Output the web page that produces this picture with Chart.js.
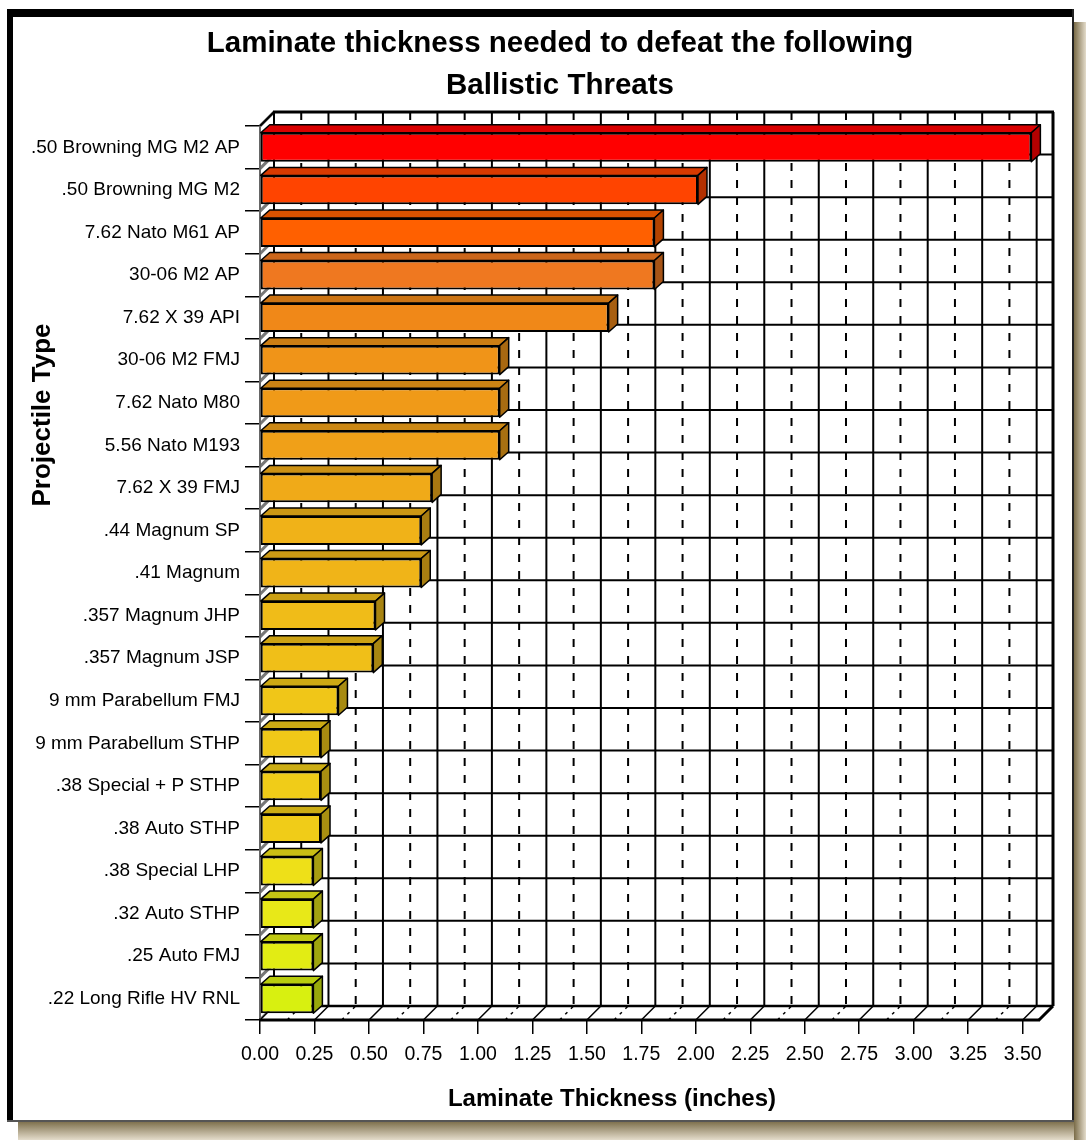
<!DOCTYPE html>
<html>
<head>
<meta charset="utf-8">
<title>Laminate thickness needed to defeat the following Ballistic Threats</title>
<script src="https://cdn.jsdelivr.net/npm/chart.js@4.4.1/dist/chart.umd.min.js"></script>
<style>
  html, body { margin: 0; padding: 0; background: #fff; }
  canvas { display: block; }
</style>
</head>
<body>
<canvas id="threat-chart" width="1086" height="1140"></canvas>
<script>
// Laminate thickness per projectile, drawn as a pseudo-3D horizontal bar chart.

/* ---------------------------------------- data ---------------------------------------- */
const projectiles = [
  '.50 Browning MG M2 AP', '.50 Browning MG M2', '7.62 Nato M61 AP', '30-06 M2 AP',
  '7.62 X 39 API', '30-06 M2 FMJ', '7.62 Nato M80', '5.56 Nato M193', '7.62 X 39 FMJ',
  '.44 Magnum SP', '.41 Magnum', '.357 Magnum JHP', '.357 Magnum JSP',
  '9 mm Parabellum FMJ', '9 mm Parabellum STHP', '.38 Special + P STHP', '.38 Auto STHP',
  '.38 Special LHP', '.32 Auto STHP', '.25 Auto FMJ', '.22 Long Rifle HV RNL'
];
const thickness = [
  3.54, 2.01, 1.81, 1.81, 1.60, 1.10, 1.10, 1.10, 0.79,
  0.74, 0.74, 0.53, 0.52, 0.36, 0.28, 0.28, 0.28,
  0.245, 0.245, 0.245, 0.245
];
const barColors = [
  '#ff0000', '#ff4400', '#ff6000', '#ef7820', '#f08818', '#f09418', '#f09a18',
  '#f0a018', '#f0aa18', '#f0b218', '#f0b418', '#f0bc18', '#f0bf18', '#f0c618',
  '#f0c818', '#f0cc18', '#f0cc18', '#eee018', '#e8e818', '#e2ec14', '#d8f010'
];
const xMin = 0, xMax = 3.575, xStep = 0.25;

const titleLines = ['Laminate thickness needed to defeat the following', 'Ballistic Threats'];
const xTitle = 'Laminate Thickness (inches)';
const yTitle = 'Projectile Type';

/* ---------------------------------------- 3D look ---------------------------------------- */
const DX = 14, DY = -14;   // back wall offset
const BX = 9,  BY = -8;    // bar depth
const FONT = '"Liberation Sans", Arial, Helvetica, sans-serif';

function shade(hex, f) {
  const n = parseInt(hex.slice(1), 16);
  const r = Math.round(((n >> 16) & 255) * f);
  const g = Math.round(((n >> 8) & 255) * f);
  const b = Math.round((n & 255) * f);
  return 'rgb(' + r + ',' + g + ',' + b + ')';
}

function poly(ctx, pts, fill, stroke, lw) {
  ctx.beginPath();
  ctx.moveTo(pts[0][0], pts[0][1]);
  for (let i = 1; i < pts.length; i++) ctx.lineTo(pts[i][0], pts[i][1]);
  ctx.closePath();
  if (fill) { ctx.fillStyle = fill; ctx.fill(); }
  if (stroke) { ctx.strokeStyle = stroke; ctx.lineWidth = lw || 1; ctx.stroke(); }
}

function line(ctx, x1, y1, x2, y2, color, lw, dash) {
  ctx.beginPath();
  ctx.setLineDash(dash || []);
  ctx.strokeStyle = color;
  ctx.lineWidth = lw;
  ctx.moveTo(x1, y1);
  ctx.lineTo(x2, y2);
  ctx.stroke();
  ctx.setLineDash([]);
}

// frame with beveled border and drop shadow
const framePlugin = {
  id: 'frame',
  beforeDraw(chart) {
    const ctx = chart.ctx;
    ctx.save();
    ctx.fillStyle = '#fff';
    ctx.fillRect(0, 0, chart.width, chart.height);

    let g = ctx.createLinearGradient(0, 1121, 0, 1140);
    g.addColorStop(0, '#7a6c48');
    g.addColorStop(1, '#e4dccb');
    ctx.fillStyle = g;
    ctx.fillRect(18, 1121, 1068, 19);
    g = ctx.createLinearGradient(1074, 0, 1086, 0);
    g.addColorStop(0, '#7a6c48');
    g.addColorStop(1, '#e4dccb');
    ctx.fillStyle = g;
    ctx.fillRect(1074, 22, 12, 1118);

    ctx.fillStyle = '#fff';
    ctx.fillRect(13, 17, 1059, 1103);
    ctx.fillStyle = '#000';
    ctx.fillRect(7, 9, 6, 1113);
    ctx.fillRect(7, 9, 1067, 8);
    ctx.fillStyle = '#222';
    ctx.fillRect(1072, 9, 2, 1113);
    ctx.fillStyle = '#555';
    ctx.fillRect(7, 1120, 1067, 2);
    ctx.restore();
  }
};

// back wall, left wall, floor and their grid lines
const wallPlugin = {
  id: 'walls',
  beforeDatasetsDraw(chart) {
    const { ctx, chartArea: a, scales: { x, y } } = chart;
    const n = projectiles.length;
    ctx.save();

    // back wall
    ctx.fillStyle = '#fff';
    ctx.fillRect(a.left + DX, a.top + DY, a.right - a.left, a.bottom - a.top);

    // horizontal lines at category boundaries
    for (let i = 0; i <= n; i++) {
      const yb = y.getPixelForValue(i - 0.5);
      line(ctx, a.left + DX, yb + DY, a.right + DX, yb + DY, '#000', 2);
    }
    // vertical lines: solid on ticks, dashed half way
    x.ticks.forEach(t => {
      const px = x.getPixelForValue(t.value) + DX;
      line(ctx, px, a.top + DY, px, a.bottom + DY, '#000', 2);
      const mid = t.value + xStep / 2;
      if (mid < xMax) {
        const pm = x.getPixelForValue(mid) + DX;
        line(ctx, pm, a.top + DY, pm, a.bottom + DY, '#000', 2, [8, 9]);
      }
    });

    // left wall
    poly(ctx, [[a.left, a.top], [a.left + DX, a.top + DY], [a.left + DX, a.bottom + DY], [a.left, a.bottom]], '#fff');
    for (let i = 0; i <= n; i++) {
      const yb = y.getPixelForValue(i - 0.5);
      line(ctx, a.left, yb, a.left + DX, yb + DY, '#777', 3);
    }
    line(ctx, a.left + DX, a.top + DY, a.left + DX, a.bottom + DY, '#000', 2);

    // floor
    poly(ctx, [[a.left, a.bottom], [a.left + DX, a.bottom + DY], [a.right + DX, a.bottom + DY], [a.right, a.bottom]], '#fff');
    x.ticks.forEach(t => {
      const px = x.getPixelForValue(t.value);
      line(ctx, px, a.bottom, px + DX, a.bottom + DY, '#000', 1.5);
      const mid = t.value + xStep / 2;
      if (mid < xMax) {
        const pm = x.getPixelForValue(mid);
        line(ctx, pm, a.bottom, pm + DX, a.bottom + DY, '#000', 1.5, [3, 5]);
      }
    });

    // outer edges
    line(ctx, a.left + DX, a.bottom + DY, a.right + DX, a.bottom + DY, '#000', 2.5);
    line(ctx, a.left, a.top, a.left + DX, a.top + DY, '#000', 2);
    line(ctx, a.left + DX - 1, a.top + DY, a.right + DX + 1, a.top + DY, '#000', 3);
    line(ctx, a.right + DX, a.top + DY, a.right + DX, a.bottom + DY, '#000', 3);
    line(ctx, a.right, a.bottom, a.right + DX, a.bottom + DY, '#000', 3);
    line(ctx, a.left, a.top, a.left, a.bottom, '#666', 2);
    line(ctx, a.left - 1, a.bottom, a.right + 1, a.bottom, '#000', 3);
    ctx.restore();
  },

  // top and side faces of each bar
  afterDatasetsDraw(chart) {
    const ctx = chart.ctx;
    const meta = chart.getDatasetMeta(0);
    ctx.save();
    ctx.lineJoin = 'round';
    meta.data.forEach((bar, i) => {
      const p = bar.getProps(['x', 'y', 'base', 'height'], true);
      const t = p.y - p.height / 2, b = p.y + p.height / 2;
      const x0 = p.base, x1 = p.x;
      poly(ctx, [[x0, t], [x0 + BX, t + BY], [x1 + BX, t + BY], [x1, t]], shade(barColors[i], 0.85), '#000', 1.5);
      poly(ctx, [[x1, t], [x1 + BX, t + BY], [x1 + BX, b + BY], [x1, b]], shade(barColors[i], 0.7), '#000', 1.5);
    });
    ctx.restore();
  },

  // chart title and axis titles
  afterDraw(chart) {
    const ctx = chart.ctx;
    ctx.save();
    ctx.fillStyle = '#000';
    ctx.textAlign = 'center';
    ctx.textBaseline = 'middle';
    ctx.font = 'bold 29.5px ' + FONT;
    ctx.fillText(titleLines[0], 560, 44);
    ctx.fillText(titleLines[1], 560, 86);

    ctx.font = 'bold 24px ' + FONT;
    ctx.fillText(xTitle, 612, 1099);

    ctx.translate(43, 415);
    ctx.rotate(-Math.PI / 2);
    ctx.font = 'bold 26px ' + FONT;
    ctx.fillText(yTitle, 0, 0);
    ctx.restore();
  }
};

/* ---------------------------------------- chart ---------------------------------------- */
const chart = new Chart(document.getElementById('threat-chart').getContext('2d'), {
  type: 'bar',
  data: {
    labels: projectiles,
    datasets: [{
      label: 'Laminate thickness',
      data: thickness,
      backgroundColor: barColors,
      borderColor: '#000',
      borderWidth: 2,
      borderSkipped: false,
      barPercentage: 0.68,
      categoryPercentage: 1
    }]
  },
  options: {
    indexAxis: 'y',
    responsive: false,
    animation: false,
    devicePixelRatio: 1,
    layout: { padding: { top: 126, right: 47, bottom: 60, left: 0 } },
    plugins: {
      legend: { display: false },
      title: { display: false },
      tooltip: { enabled: false }
    },
    scales: {
      x: {
        type: 'linear',
        min: xMin,
        max: xMax,
        afterFit: s => { s.height = 60; },
        border: { display: false },
        grid: { drawOnChartArea: false, drawTicks: true, tickLength: 14, color: '#000', lineWidth: 1.5 },
        ticks: {
          stepSize: xStep,
          includeBounds: false,
          autoSkip: false,
          maxRotation: 0,
          padding: 9,
          color: '#000',
          font: { family: FONT, size: 19.5 },
          callback: v => Number(v).toFixed(2)
        }
      },
      y: {
        afterFit: s => { s.width = 260; },
        border: { display: false },
        grid: { drawOnChartArea: false, drawTicks: true, tickLength: 15, color: '#000', lineWidth: 1.5 },
        ticks: {
          autoSkip: false,
          padding: 5,
          color: '#000',
          font: { family: FONT, size: 19 }
        }
      }
    }
  },
  plugins: [framePlugin, wallPlugin]
});
</script>
</body>
</html>
